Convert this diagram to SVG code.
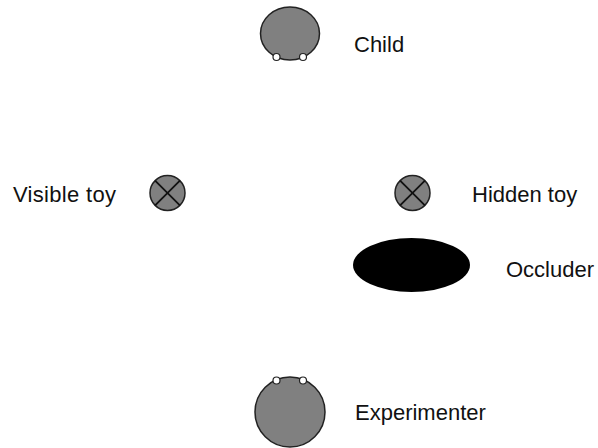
<svg xmlns="http://www.w3.org/2000/svg" width="598" height="448" viewBox="0 0 598 448">
<style>
.body{fill:#808080;stroke:#222;stroke-width:1.5}
.eye{fill:#fff;stroke:#222;stroke-width:1.2}
.toy{fill:#808080;stroke:#222;stroke-width:1.5}
.x{stroke:#111;stroke-width:1.8}
.lbl{font-family:"Liberation Sans",Arial,sans-serif;font-size:22px;fill:#111}
</style>
<rect width="598" height="448" fill="#fff"/>
<g id="child">
<ellipse class="body" cx="290" cy="33.5" rx="29.5" ry="26.5"/>
<circle class="eye" cx="276.5" cy="57" r="3.5"/>
<circle class="eye" cx="303" cy="57" r="3.5"/>
<text class="lbl" x="354" y="52">Child</text>
</g>
<g id="visible-toy">
<circle class="toy" cx="167.5" cy="193" r="17.5"/>
<line class="x" x1="155.1" y1="180.6" x2="179.9" y2="205.4"/>
<line class="x" x1="179.9" y1="180.6" x2="155.1" y2="205.4"/>
<text class="lbl" x="13" y="202" textLength="103" lengthAdjust="spacing">Visible toy</text>
</g>
<g id="hidden-toy">
<circle class="toy" cx="412.5" cy="193" r="17.5"/>
<line class="x" x1="400.1" y1="180.6" x2="424.9" y2="205.4"/>
<line class="x" x1="424.9" y1="180.6" x2="400.1" y2="205.4"/>
<text class="lbl" x="472" y="202">Hidden toy</text>
</g>
<g id="occluder">
<ellipse cx="411.5" cy="265" rx="58.5" ry="27" fill="#000"/>
<text class="lbl" x="506" y="277">Occluder</text>
</g>
<g id="experimenter">
<circle class="body" cx="290" cy="412" r="35"/>
<circle class="eye" cx="276.5" cy="380.5" r="3.5"/>
<circle class="eye" cx="303" cy="380.5" r="3.5"/>
<text class="lbl" x="355" y="420">Experimenter</text>
</g>
<g id="connectors"/>
</svg>
